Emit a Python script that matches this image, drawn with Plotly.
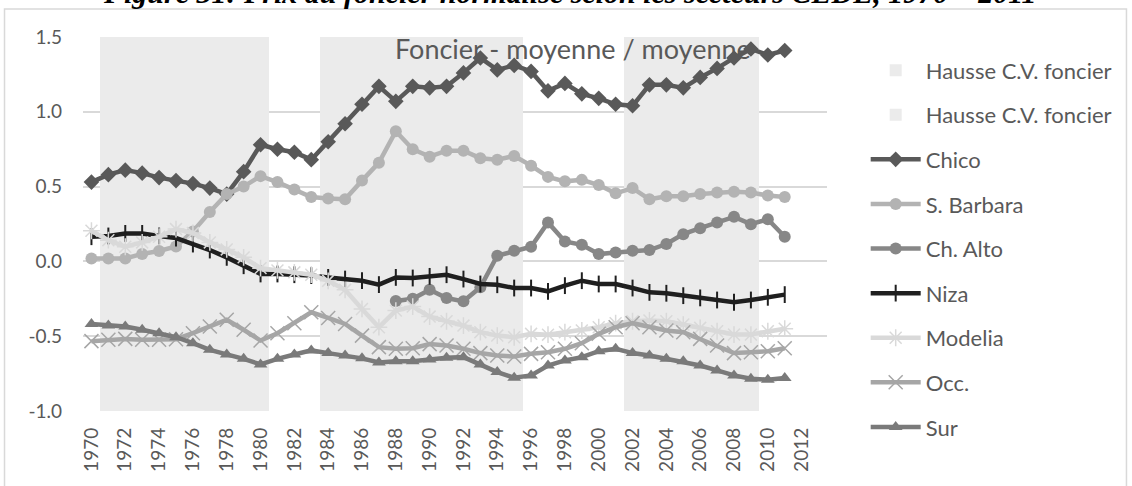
import plotly.graph_objects as go

# Years covered by the series
years = list(range(1970, 2012))

# Periods of land-price rise (shaded columns, full height above and below zero)
hausse_haut = [None, 1.5, 1.5, 1.5, 1.5, 1.5, 1.5, 1.5, 1.5, 1.5,
               1.5, None, None, None, 1.5, 1.5, 1.5, 1.5, 1.5, 1.5,
               1.5, 1.5, 1.5, 1.5, 1.5, 1.5, None, None, None, None,
               None, None, 1.5, 1.5, 1.5, 1.5, 1.5, 1.5, 1.5, 1.5,
               None, None]
hausse_bas = [None, -1.0, -1.0, -1.0, -1.0, -1.0, -1.0, -1.0, -1.0, -1.0,
              -1.0, None, None, None, -1.0, -1.0, -1.0, -1.0, -1.0, -1.0,
              -1.0, -1.0, -1.0, -1.0, -1.0, -1.0, None, None, None, None,
              None, None, -1.0, -1.0, -1.0, -1.0, -1.0, -1.0, -1.0, -1.0,
              None, None]

chico = [0.53, 0.58, 0.61, 0.59, 0.56, 0.54, 0.52, 0.49, 0.45, 0.60,
         0.78, 0.75, 0.73, 0.68, 0.80, 0.92, 1.05, 1.17, 1.07, 1.17,
         1.16, 1.17, 1.26, 1.36, 1.28, 1.31, 1.27, 1.14, 1.19, 1.12,
         1.09, 1.05, 1.04, 1.18, 1.18, 1.16, 1.23, 1.29, 1.36, 1.42,
         1.38, 1.41]
s_barbara = [0.02, 0.02, 0.02, 0.05, 0.07, 0.10, 0.20, 0.33, 0.45, 0.50,
             0.57, 0.53, 0.48, 0.43, 0.42, 0.415, 0.54, 0.66, 0.87, 0.75,
             0.70, 0.74, 0.74, 0.69, 0.68, 0.705, 0.64, 0.565, 0.535, 0.545,
             0.51, 0.455, 0.49, 0.415, 0.435, 0.435, 0.45, 0.46, 0.465, 0.46,
             0.44, 0.43]
ch_alto = [None, None, None, None, None, None, None, None, None, None,
           None, None, None, None, None, None, None, None, -0.265, -0.25,
           -0.19, -0.245, -0.267, -0.173, 0.038, 0.071, 0.098, 0.26, 0.133, 0.111,
           0.049, 0.06, 0.071, 0.076, 0.116, 0.182, 0.222, 0.26, 0.298, 0.249,
           0.282, 0.165]
niza = [0.165, 0.17, 0.187, 0.187, 0.17, 0.156, 0.116, 0.076, 0.027, -0.029,
        -0.084, -0.084, -0.089, -0.095, -0.107, -0.118, -0.129, -0.155, -0.107, -0.111,
        -0.10, -0.089, -0.118, -0.151, -0.156, -0.178, -0.178, -0.20, -0.162, -0.129,
        -0.151, -0.151, -0.178, -0.207, -0.213, -0.229, -0.244, -0.258, -0.273, -0.258,
        -0.24, -0.222]
modelia = [0.205, 0.142, 0.098, 0.127, 0.165, 0.216, 0.19, 0.127, 0.08, 0.027,
           -0.045, -0.06, -0.073, -0.089, -0.13, -0.19, -0.318, -0.44, -0.329, -0.302,
           -0.369, -0.40, -0.429, -0.473, -0.496, -0.507, -0.484, -0.49, -0.473, -0.462,
           -0.44, -0.413, -0.40, -0.395, -0.40, -0.422, -0.444, -0.467, -0.489, -0.489,
           -0.467, -0.45]
occ = [-0.533, -0.524, -0.518, -0.524, -0.524, -0.52, -0.48, -0.435, -0.39, -0.457,
       -0.529, -0.48, -0.413, -0.34, -0.378, -0.418, -0.496, -0.573, -0.584, -0.58,
       -0.553, -0.562, -0.584, -0.613, -0.629, -0.636, -0.618, -0.607, -0.584, -0.547,
       -0.484, -0.44, -0.413, -0.44, -0.462, -0.473, -0.518, -0.562, -0.613, -0.607,
       -0.60, -0.58]
sur = [-0.418, -0.429, -0.435, -0.457, -0.48, -0.507, -0.547, -0.591, -0.622, -0.651,
       -0.689, -0.651, -0.622, -0.595, -0.613, -0.629, -0.648, -0.676, -0.668, -0.668,
       -0.655, -0.644, -0.64, -0.689, -0.74, -0.778, -0.762, -0.696, -0.662, -0.64,
       -0.60, -0.584, -0.613, -0.629, -0.651, -0.667, -0.696, -0.729, -0.762, -0.784,
       -0.791, -0.78]

x_ticks = list(range(1970, 2013, 2))
y_ticks = [-1.0, -0.5, 0.0, 0.5, 1.0, 1.5]
y_labels = ["-1.0", "-0.5", "0.0", "0.5", "1.0", "1.5"]

FONT = "Lato, 'Liberation Sans', sans-serif"
TXT = "#595959"

fig = go.Figure()

for i, vals in enumerate([hausse_haut, hausse_bas]):
    fig.add_trace(go.Bar(
        x=years, y=vals, name="Hausse C.V. foncier", width=1.0,
        marker=dict(color="#ebebeb", line=dict(width=0)),
        legendgroup=f"h{i}",
    ))

series = [
    ("Chico", chico, "#595959", dict(symbol="diamond", size=12)),
    ("S. Barbara", s_barbara, "#b3b3b3", dict(symbol="circle", size=12)),
    ("Ch. Alto", ch_alto, "#878787", dict(symbol="circle", size=12)),
    ("Niza", niza, "#1f1f1f", dict(symbol="line-ns", size=12,
                                   line=dict(width=2, color="#1f1f1f"))),
    ("Modelia", modelia, "#d9d9d9", dict(symbol="asterisk", size=14,
                                         line=dict(width=1.5, color="#d9d9d9"))),
    ("Occ.", occ, "#a6a6a6", dict(symbol="x-thin", size=14,
                                  line=dict(width=1.5, color="#a6a6a6"))),
    ("Sur", sur, "#7a7a7a", dict(symbol="triangle-up", size=12)),
]
for name, vals, col, mk in series:
    mk = dict(mk)
    mk.setdefault("color", col)
    fig.add_trace(go.Scatter(
        x=years, y=vals, name=name, mode="lines+markers",
        line=dict(color=col, width=4.5), marker=mk,
        connectgaps=False, legendgroup=name,
    ))

fig.update_layout(
    width=1132, height=486,
    margin=dict(l=83, r=305, t=37, b=75),
    paper_bgcolor="white", plot_bgcolor="white",
    barmode="relative", bargap=0,
    font=dict(family=FONT, size=19, color=TXT),
    showlegend=True,
    legend=dict(
        x=1.052, xanchor="left", y=0.967, yanchor="top",
        traceorder="grouped", tracegroupgap=13, itemwidth=50,
        maxheight=480,
        font=dict(family=FONT, size=22, color=TXT),
        bgcolor="rgba(0,0,0,0)",
    ),
    xaxis=dict(
        range=[1969.5, 2013.5], tickvals=x_ticks,
        ticktext=[str(v) for v in x_ticks], tickangle=-90,
        showgrid=False, zeroline=False, showline=False, ticks="",
        ticklabelstandoff=12,
        tickfont=dict(family=FONT, size=19, color=TXT),
    ),
    yaxis=dict(
        range=[-1.0, 1.5], tickvals=y_ticks, ticktext=y_labels,
        showgrid=True, gridcolor="#d9d9d9", gridwidth=1.5,
        zeroline=False, showline=False, ticks="",
        ticklabelstandoff=20,
        tickfont=dict(family=FONT, size=19, color=TXT),
    ),
    annotations=[
        dict(text="Foncier - moyenne / moyenne", xref="paper", yref="paper",
             x=0.6586, y=0.97, xanchor="center", yanchor="middle",
             showarrow=False, font=dict(family=FONT, size=27, color=TXT)),
        dict(text="<b><i>Figure 31: Prix du foncier normalisé selon les secteurs CEDE, 1970 – 2011</i></b>",
             xref="paper", yref="paper", x=0.655, y=1.07,
             xanchor="center", yanchor="bottom", showarrow=False,
             font=dict(family="'Liberation Serif', serif", size=30, color="#000000")),
    ],
    shapes=[
        dict(type="rect", xref="paper", yref="paper",
             x0=-0.1055, x1=1.4025, y0=-0.3, y1=1.075,
             line=dict(color="#d9d9d9", width=1.5), layer="below"),
    ],
)

fig.write_html("out.html")
